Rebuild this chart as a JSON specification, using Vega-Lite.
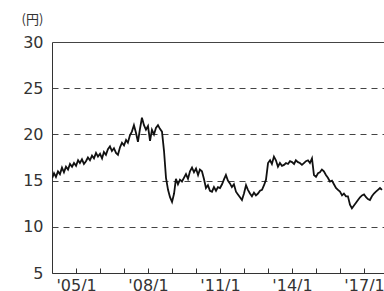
{
  "$schema": "https://vega.github.io/schema/vega-lite/v6.json",
  "width": 332,
  "height": 231,
  "autosize": {"type": "none"},
  "padding": {"left": 52, "top": 42, "right": 0, "bottom": 18},
  "background": "white",
  "config": {"view": {"stroke": null}, "font": "DejaVu Sans"},
  "data": {"values": [
    {"d":"2004-01-05","v":15.3},{"d":"2004-02-01","v":15.8},{"d":"2004-03-01","v":15.4},{"d":"2004-04-01","v":16.0},{"d":"2004-05-01","v":15.7},{"d":"2004-06-01","v":16.4},{"d":"2004-07-01","v":15.9},{"d":"2004-08-01","v":16.5},{"d":"2004-09-01","v":16.2},{"d":"2004-10-01","v":16.8},{"d":"2004-11-01","v":16.5},{"d":"2004-12-01","v":16.9},
    {"d":"2005-01-01","v":16.6},{"d":"2005-02-01","v":17.2},{"d":"2005-03-01","v":16.9},{"d":"2005-04-01","v":17.3},{"d":"2005-05-01","v":16.8},{"d":"2005-06-01","v":17.1},{"d":"2005-07-01","v":17.5},{"d":"2005-08-01","v":17.2},{"d":"2005-09-01","v":17.7},{"d":"2005-10-01","v":17.4},{"d":"2005-11-01","v":18.0},{"d":"2005-12-01","v":17.6},
    {"d":"2006-01-01","v":17.9},{"d":"2006-02-01","v":17.4},{"d":"2006-03-01","v":18.1},{"d":"2006-04-01","v":17.8},{"d":"2006-05-01","v":18.4},{"d":"2006-06-01","v":18.7},{"d":"2006-07-01","v":18.2},{"d":"2006-08-01","v":18.5},{"d":"2006-09-01","v":18.0},{"d":"2006-10-01","v":17.8},{"d":"2006-11-01","v":18.6},{"d":"2006-12-01","v":19.1},
    {"d":"2007-01-01","v":18.8},{"d":"2007-02-01","v":19.4},{"d":"2007-03-01","v":19.1},{"d":"2007-04-01","v":19.9},{"d":"2007-05-01","v":20.3},{"d":"2007-06-01","v":21.0},{"d":"2007-07-01","v":20.2},{"d":"2007-08-01","v":19.2},{"d":"2007-09-01","v":20.6},{"d":"2007-10-01","v":21.8},{"d":"2007-11-01","v":21.0},{"d":"2007-12-01","v":20.5},
    {"d":"2008-01-01","v":20.9},{"d":"2008-02-01","v":19.3},{"d":"2008-03-01","v":20.5},{"d":"2008-04-01","v":20.0},{"d":"2008-05-01","v":20.7},{"d":"2008-06-01","v":21.0},{"d":"2008-07-01","v":20.6},{"d":"2008-08-01","v":20.3},{"d":"2008-09-01","v":18.2},{"d":"2008-10-01","v":15.3},{"d":"2008-11-01","v":14.0},{"d":"2008-12-01","v":13.2},
    {"d":"2009-01-01","v":12.7},{"d":"2009-02-01","v":13.6},{"d":"2009-03-01","v":15.2},{"d":"2009-04-01","v":14.6},{"d":"2009-05-01","v":15.1},{"d":"2009-06-01","v":14.9},{"d":"2009-07-01","v":15.3},{"d":"2009-08-01","v":15.7},{"d":"2009-09-01","v":15.2},{"d":"2009-10-01","v":16.0},{"d":"2009-11-01","v":16.4},{"d":"2009-12-01","v":15.9},
    {"d":"2010-01-01","v":16.3},{"d":"2010-02-01","v":15.6},{"d":"2010-03-01","v":16.2},{"d":"2010-04-01","v":16.0},{"d":"2010-05-01","v":15.2},{"d":"2010-06-01","v":14.2},{"d":"2010-07-01","v":14.5},{"d":"2010-08-01","v":13.9},{"d":"2010-09-01","v":13.8},{"d":"2010-10-01","v":14.3},{"d":"2010-11-01","v":13.9},{"d":"2010-12-01","v":14.3},
    {"d":"2011-01-01","v":14.2},{"d":"2011-02-01","v":14.6},{"d":"2011-03-01","v":15.1},{"d":"2011-04-01","v":15.6},{"d":"2011-05-01","v":15.0},{"d":"2011-06-01","v":14.7},{"d":"2011-07-01","v":14.3},{"d":"2011-08-01","v":14.6},{"d":"2011-09-01","v":13.8},{"d":"2011-10-01","v":13.5},{"d":"2011-11-01","v":13.2},{"d":"2011-12-01","v":12.9},
    {"d":"2012-01-01","v":13.6},{"d":"2012-02-01","v":14.5},{"d":"2012-03-01","v":14.0},{"d":"2012-04-01","v":13.6},{"d":"2012-05-01","v":13.3},{"d":"2012-06-01","v":13.7},{"d":"2012-07-01","v":13.4},{"d":"2012-08-01","v":13.6},{"d":"2012-09-01","v":13.9},{"d":"2012-10-01","v":14.0},{"d":"2012-11-01","v":14.5},{"d":"2012-12-01","v":15.1},
    {"d":"2013-01-01","v":16.9},{"d":"2013-02-01","v":17.2},{"d":"2013-03-01","v":16.8},{"d":"2013-04-01","v":17.6},{"d":"2013-05-01","v":17.2},{"d":"2013-06-01","v":16.5},{"d":"2013-07-01","v":16.9},{"d":"2013-08-01","v":16.6},{"d":"2013-09-01","v":16.7},{"d":"2013-10-01","v":16.9},{"d":"2013-11-01","v":16.8},{"d":"2013-12-01","v":17.1},
    {"d":"2014-01-01","v":17.0},{"d":"2014-02-01","v":16.8},{"d":"2014-03-01","v":17.2},{"d":"2014-04-01","v":17.0},{"d":"2014-05-01","v":16.9},{"d":"2014-06-01","v":16.7},{"d":"2014-07-01","v":16.9},{"d":"2014-08-01","v":17.1},{"d":"2014-09-01","v":17.2},{"d":"2014-10-01","v":16.9},{"d":"2014-11-01","v":17.4},{"d":"2014-12-01","v":15.6},
    {"d":"2015-01-01","v":15.4},{"d":"2015-02-01","v":15.8},{"d":"2015-03-01","v":15.9},{"d":"2015-04-01","v":16.2},{"d":"2015-05-01","v":16.0},{"d":"2015-06-01","v":15.6},{"d":"2015-07-01","v":15.3},{"d":"2015-08-01","v":14.9},{"d":"2015-09-01","v":15.0},{"d":"2015-10-01","v":14.6},{"d":"2015-11-01","v":14.2},{"d":"2015-12-01","v":14.0},
    {"d":"2016-01-01","v":13.8},{"d":"2016-02-01","v":13.4},{"d":"2016-03-01","v":13.6},{"d":"2016-04-01","v":13.3},{"d":"2016-05-01","v":13.3},{"d":"2016-06-01","v":12.4},{"d":"2016-07-01","v":12.0},{"d":"2016-08-01","v":12.3},{"d":"2016-09-01","v":12.6},{"d":"2016-10-01","v":12.9},{"d":"2016-11-01","v":13.2},{"d":"2016-12-01","v":13.4},
    {"d":"2017-01-01","v":13.5},{"d":"2017-02-01","v":13.2},{"d":"2017-03-01","v":13.0},{"d":"2017-04-01","v":12.9},{"d":"2017-05-01","v":13.3},{"d":"2017-06-01","v":13.6},{"d":"2017-07-01","v":13.8},{"d":"2017-08-01","v":14.0},{"d":"2017-09-01","v":14.2},{"d":"2017-10-01","v":14.0}
  ]},
  "mark": {"type": "line", "color": "#111", "strokeWidth": 1.8, "clip": true},
  "encoding": {
    "x": {
      "field": "d", "type": "temporal",
      "scale": {"domain": ["2004-01-01T00:00:00", "2017-11-01T00:00:00"]},
      "axis": {
        "title": null,
        "values": ["2005-01-01T00:00:00","2006-01-01T00:00:00","2007-01-01T00:00:00","2008-01-01T00:00:00","2009-01-01T00:00:00","2010-01-01T00:00:00","2011-01-01T00:00:00","2012-01-01T00:00:00","2013-01-01T00:00:00","2014-01-01T00:00:00","2015-01-01T00:00:00","2016-01-01T00:00:00","2017-01-01T00:00:00"],
        "labelExpr": "(year(datum.value)-2005)%3==0 ? \"'\" + timeFormat(datum.value, '%y') + '/1' : ''",
        "grid": false,
        "domainColor": "#333",
        "tickColor": "#333",
        "tickSize": -5,
        "labelPadding": 9,
        "labelFont": "DejaVu Sans",
        "labelFontSize": 16,
        "labelColor": "#333",
        "labelOverlap": false,
        "labelFlush": false,
        "labelBaseline": "top"
      }
    },
    "y": {
      "field": "v", "type": "quantitative",
      "scale": {"domain": [5, 30], "nice": false, "zero": false},
      "axis": {
        "title": "(円)",
        "titleAngle": 0,
        "titleAlign": "left",
        "titleBaseline": "middle",
        "titleX": -31,
        "titleY": -23,
        "titleFont": "Noto Sans CJK JP",
        "titleFontSize": 13,
        "titleFontWeight": "normal",
        "titleColor": "#333",
        "values": [5, 10, 15, 20, 25, 30],
        "ticks": false,
        "labelPadding": 9,
        "labelFont": "DejaVu Sans",
        "labelFontSize": 16,
        "labelColor": "#333",
        "domainColor": "#333",
        "grid": true,
        "gridColor": "#444",
        "gridWidth": 1,
        "gridDash": {"condition": {"test": "datum.value === 30", "value": []}, "value": [6, 5]}
      }
    }
  }
}
